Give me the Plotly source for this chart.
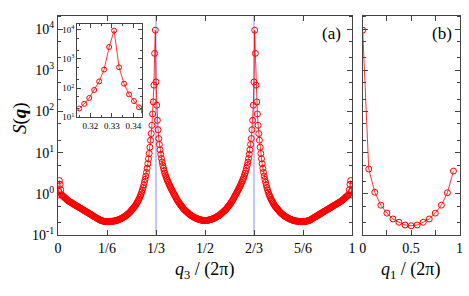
import plotly.graph_objects as go

# structure factor along q3 (lattice of 432 points, q3/(2pi) = k/432)
n_q3 = 432
s_q3 = [
    0.93, 1.15, 2.1, 1.7, 1.25, 0.955, 0.923, 0.891, 0.861, 0.832,
    0.804, 0.776, 0.750, 0.724, 0.700, 0.676, 0.661, 0.646, 0.631, 0.617,
    0.603, 0.589, 0.575, 0.562, 0.550, 0.537, 0.525, 0.513, 0.501, 0.490,
    0.479, 0.468, 0.457, 0.447, 0.437, 0.427, 0.417, 0.407, 0.398, 0.389,
    0.380, 0.372, 0.363, 0.355, 0.347, 0.339, 0.331, 0.324, 0.316, 0.309,
    0.302, 0.295, 0.288, 0.282, 0.275, 0.269, 0.263, 0.257, 0.251, 0.245,
    0.240, 0.234, 0.229, 0.226, 0.224, 0.221, 0.219, 0.216, 0.214, 0.214,
    0.214, 0.211, 0.211, 0.211, 0.211, 0.211, 0.211, 0.214, 0.214, 0.214,
    0.216, 0.216, 0.219, 0.219, 0.221, 0.224, 0.226, 0.229, 0.232, 0.234,
    0.240, 0.243, 0.245, 0.251, 0.257, 0.263, 0.269, 0.275, 0.282, 0.288,
    0.295, 0.309, 0.316, 0.324, 0.339, 0.347, 0.363, 0.380, 0.398, 0.417,
    0.437, 0.457, 0.479, 0.501, 0.525, 0.562, 0.603, 0.646, 0.692, 0.741,
    0.813, 0.891, 0.977, 1.10, 1.23, 1.41, 1.62, 1.91, 2.24, 2.69,
    3.31, 4.17, 5.37, 7.08, 9.55, 13.5, 20.0, 29.0, 46.0, 87.0,
    170, 435, 2570, 9400, 520, 142, 61, 36, 22, 15.8,
    11.7, 9.1, 7.2, 5.9, 4.9, 4.2, 3.6, 3.16, 2.82, 2.51,
    2.29, 2.09, 1.91, 1.74, 1.60, 1.48, 1.365, 1.26, 1.175, 1.10,
    1.02, 0.955, 0.891, 0.832, 0.767, 0.716, 0.676, 0.638, 0.603, 0.569,
    0.537, 0.513, 0.490, 0.468, 0.442, 0.422, 0.407, 0.394, 0.380, 0.367,
    0.355, 0.343, 0.331, 0.320, 0.309, 0.302, 0.295, 0.288, 0.282, 0.275,
    0.269, 0.263, 0.257, 0.254, 0.251, 0.245, 0.243, 0.240, 0.237, 0.234,
    0.232, 0.229, 0.229, 0.226, 0.226, 0.224, 0.224,
    0.224, 0.226, 0.226, 0.229, 0.229, 0.232,
    0.234, 0.237, 0.240, 0.243, 0.245, 0.251, 0.254, 0.257, 0.263, 0.269,
    0.275, 0.282, 0.288, 0.295, 0.302, 0.309, 0.320, 0.331, 0.343, 0.355,
    0.367, 0.380, 0.394, 0.407, 0.422, 0.442, 0.468, 0.490, 0.513, 0.537,
    0.569, 0.603, 0.638, 0.676, 0.716, 0.767, 0.832, 0.891, 0.955, 1.02,
    1.10, 1.175, 1.26, 1.365, 1.48, 1.60, 1.74, 1.91, 2.09, 2.29,
    2.51, 2.82, 3.16, 3.6, 4.2, 4.9, 5.9, 7.2, 9.1, 11.7,
    15.8, 22, 36, 61, 142, 520, 9400, 2570, 435, 170,
    87.0, 46.0, 29.0, 20.0, 13.5, 9.55, 7.08, 5.37, 4.17, 3.31,
    2.69, 2.24, 1.91, 1.62, 1.41, 1.23, 1.10, 0.977, 0.891, 0.813,
    0.741, 0.692, 0.646, 0.603, 0.562, 0.525, 0.501, 0.479, 0.457, 0.437,
    0.417, 0.398, 0.380, 0.363, 0.347, 0.339, 0.324, 0.316, 0.309, 0.295,
    0.288, 0.282, 0.275, 0.269, 0.263, 0.257, 0.251, 0.245, 0.243, 0.240,
    0.234, 0.232, 0.229, 0.226, 0.224, 0.221, 0.219, 0.219, 0.216, 0.216,
    0.214, 0.214, 0.214, 0.211, 0.211, 0.211, 0.211, 0.211, 0.211, 0.214,
    0.214, 0.214, 0.216, 0.219, 0.221, 0.224, 0.226, 0.229, 0.234, 0.240,
    0.245, 0.251, 0.257, 0.263, 0.269, 0.275, 0.282, 0.288, 0.295, 0.302,
    0.309, 0.316, 0.324, 0.331, 0.339, 0.347, 0.355, 0.363, 0.372, 0.380,
    0.389, 0.398, 0.407, 0.417, 0.427, 0.437, 0.447, 0.457, 0.468, 0.479,
    0.490, 0.501, 0.513, 0.525, 0.537, 0.550, 0.562, 0.575, 0.589, 0.603,
    0.617, 0.631, 0.646, 0.661, 0.676, 0.700, 0.724, 0.750, 0.776, 0.804,
    0.832, 0.861, 0.891, 0.923, 0.955, 1.25, 1.7, 2.1, 1.15, 0.93,
]
q3 = [k / n_q3 for k in range(len(s_q3))]

# structure factor along q1 (16 points)
q1 = [0, 0.0625, 0.125, 0.1875, 0.25, 0.3125, 0.375, 0.4375,
      0.5, 0.5625, 0.625, 0.6875, 0.75, 0.8125, 0.875, 0.9375]
s_q1 = [9400, 4.0, 1.09, 0.53, 0.34, 0.245, 0.204, 0.175,
        0.168, 0.175, 0.204, 0.245, 0.34, 0.53, 1.06, 3.57]

q3_ticks = [0, 1/6, 1/3, 1/2, 2/3, 5/6, 1]
q3_ticklabels = ["0", "1/6", "1/3", "1/2", "2/3", "5/6", "1"]
q1_ticks = [0, 0.25, 0.5, 0.75, 1]
q1_ticklabels = ["0", "", "0.5", "", "1"]
s_ticks = [0.1, 1, 10, 100, 1000, 10000]
s_ticklabels = ["10<sup>-1</sup>", "10<sup>0</sup>", "10<sup>1</sup>",
                "10<sup>2</sup>", "10<sup>3</sup>", "10<sup>4</sup>"]
s_minor = [0.2, 0.5, 2, 5, 20, 50, 200, 500, 2000, 5000, 20000]
inset_ticks = [0.32, 0.33, 0.34]
inset_minor = [0.315, 0.325, 0.335]
commensurate = [1/3, 2/3]

RED = "#ff0000"
AX = "#444444"
FONT = "Times New Roman, Liberation Serif, DejaVu Serif, serif"
W, H = 469, 296

def px(x0, x1):
    return [x0 / W, x1 / W]

def py(top, bottom):
    return [1 - bottom / H, 1 - top / H]

marker = dict(symbol="circle-open", size=6, color=RED, line=dict(width=1, color=RED))
line = dict(color=RED, width=0.8)

fig = go.Figure()
fig.add_trace(go.Scatter(x=q3, y=s_q3, mode="lines+markers", marker=marker,
                         line=line, xaxis="x", yaxis="y", hoverinfo="none"))
fig.add_trace(go.Scatter(x=q1, y=s_q1, mode="lines+markers", marker=marker,
                         line=line, xaxis="x2", yaxis="y2", hoverinfo="none"))
fig.add_trace(go.Scatter(x=q3, y=s_q3, mode="lines+markers",
                         marker=dict(marker, size=5), line=line,
                         xaxis="x3", yaxis="y3", hoverinfo="none", cliponaxis=True))

frame = dict(showline=True, linecolor=AX, linewidth=1, mirror="ticks",
             ticks="inside", tickcolor=AX, showgrid=False, zeroline=False,
             automargin=False,
             tickfont=dict(family=FONT, size=14, color="black"))
logminor = dict(tickmode="array", tickvals=s_minor, ticks="inside",
                ticklen=3, tickcolor=AX)

fig.update_layout(
    width=W, height=H, margin=dict(l=0, r=0, t=0, b=0),
    paper_bgcolor="white", plot_bgcolor="white", showlegend=False,
    font=dict(family=FONT, color="black"),
    xaxis=dict(frame, domain=px(58, 352), range=[0, 1], anchor="y",
               tickvals=q3_ticks, ticktext=q3_ticklabels, ticklen=5),
    yaxis=dict(frame, domain=py(15.5, 235), type="log", range=[-1, 4.33],
               anchor="x", tickvals=s_ticks, ticktext=s_ticklabels,
               ticklen=5, minor=logminor),
    xaxis2=dict(frame, domain=px(362.7, 459.5), range=[0, 1], anchor="y2",
                tickvals=q1_ticks, ticktext=q1_ticklabels, ticklen=5),
    yaxis2=dict(frame, domain=py(15.5, 235), type="log", range=[-1, 4.33],
                anchor="x2", tickvals=s_ticks, showticklabels=False,
                ticklen=5, minor=logminor),
    xaxis3=dict(frame, domain=px(77.3, 142), range=[0.3139, 0.344], anchor="y3",
                tickvals=inset_ticks, ticktext=["0.32", "0.33", "0.34"], ticklen=4,
                tickfont=dict(family=FONT, size=9, color="black"),
                minor=dict(tickmode="array", tickvals=inset_minor, ticks="inside",
                           ticklen=2, tickcolor=AX)),
    yaxis3=dict(frame, domain=py(24.3, 117.3), type="log", range=[1.0, 4.19],
                anchor="x3", tickvals=s_ticks[2:], ticktext=s_ticklabels[2:],
                ticklen=4, tickfont=dict(family=FONT, size=9, color="black"),
                minor=dict(logminor, ticklen=2)),
)

for q in commensurate:
    fig.add_shape(type="line", xref="x", yref="y domain", x0=q, x1=q, y0=0, y1=1,
                  line=dict(color="#8c8cff", width=1), layer="below")
fig.add_shape(type="line", xref="x3", yref="y3 domain", x0=commensurate[0],
              x1=commensurate[0], y0=0, y1=1, line=dict(color="#8c8cff", width=1),
              layer="below")

def label(text, x, y, size=17, angle=0):
    fig.add_annotation(text=text, x=x / W, y=1 - y / H, xref="paper", yref="paper",
                       xanchor="center", yanchor="middle",
                       showarrow=False, textangle=angle,
                       font=dict(family=FONT, size=size, color="black"))

label("(a)", 331.7, 33)
label("(b)", 441.7, 33)
label("<i>S</i>(<b><i>q</i></b>)", 20, 118, size=19, angle=-90)
label("<i>q</i><sub>3</sub> / (2π)", 204, 270, size=18)
label("<i>q</i><sub>1</sub> / (2π)", 410, 270, size=18)

# drop the default page margin so the figure sits at the window corner
fig.write_html("out.html", config={"displayModeBar": False},
               post_script="document.body.style.margin = '0';")
